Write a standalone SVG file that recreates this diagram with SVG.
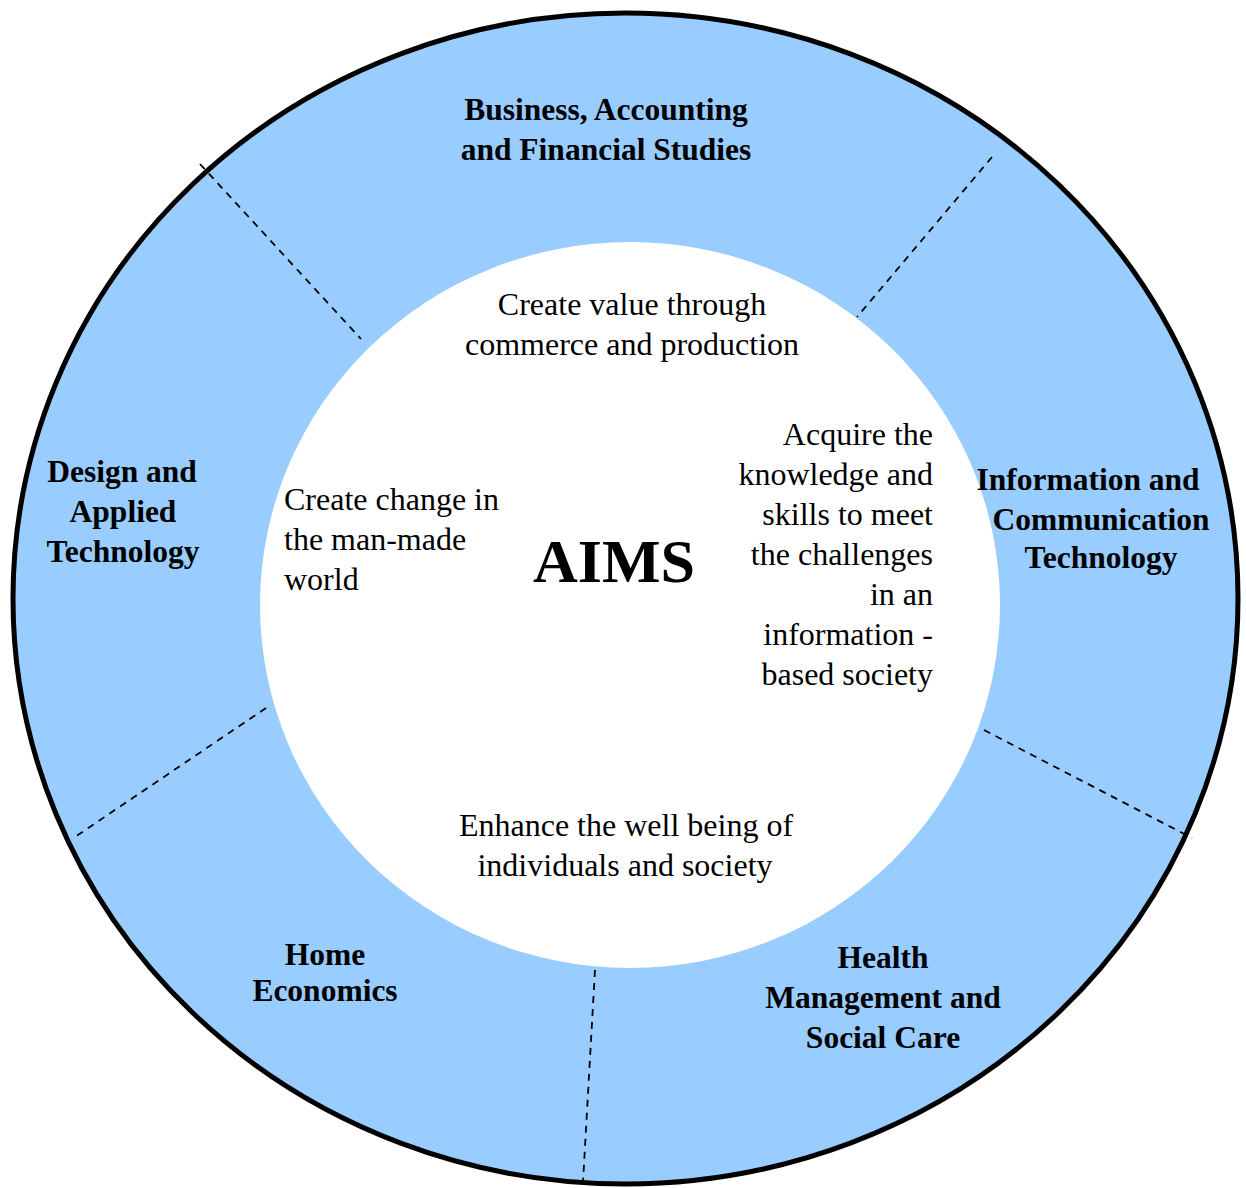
<svg xmlns="http://www.w3.org/2000/svg" width="1246" height="1188" viewBox="0 0 1246 1188">
  <style>
    .ring { fill: #99CCFF; stroke: #000; stroke-width: 5; }
    .hub { fill: #FFFFFF; stroke: none; }
    .divider { stroke: #000; stroke-width: 1.8; stroke-dasharray: 7 6; fill: none; }
    .area { font-family: "Liberation Serif", "Times New Roman", serif; font-weight: bold; font-size: 31.5px; fill: #000; text-anchor: middle; }
    .aim { font-family: "Liberation Serif", "Times New Roman", serif; font-size: 32px; fill: #000; }
    .title { font-family: "Liberation Serif", "Times New Roman", serif; font-weight: bold; font-size: 62px; fill: #000; text-anchor: middle; }
  </style>

  <!-- outer ring and inner hub -->
  <g id="ring">
    <ellipse class="ring" cx="625.5" cy="598.5" rx="612.5" ry="585.5"/>
  </g>
  <g id="hub">
    <ellipse class="hub" cx="630" cy="605" rx="370" ry="363"/>
    <text class="title" x="614" y="582">AIMS</text>
  </g>

  <!-- dashed dividers between the subject areas -->
  <g id="connectors">
    <line class="divider" x1="200" y1="164" x2="361" y2="339"/>
    <line class="divider" x1="992" y1="157" x2="857" y2="317"/>
    <line class="divider" x1="266" y1="708" x2="72" y2="839"/>
    <line class="divider" x1="984" y1="730" x2="1192" y2="838"/>
    <line class="divider" x1="595" y1="970" x2="583" y2="1182"/>
  </g>

  <!-- subject areas with their aims -->
  <g id="business">
    <text class="area" x="606" y="120">Business, Accounting</text>
    <text class="area" x="606" y="160">and Financial Studies</text>
    <text class="aim" x="632" y="315" text-anchor="middle">Create value through</text>
    <text class="aim" x="632" y="355" text-anchor="middle">commerce and production</text>
  </g>

  <g id="ict">
    <text class="area" x="1088" y="490">Information and</text>
    <text class="area" x="1101" y="530">Communication</text>
    <text class="area" x="1101" y="568">Technology</text>
    <text class="aim" x="933" y="445" text-anchor="end">Acquire the</text>
    <text class="aim" x="933" y="485" text-anchor="end">knowledge and</text>
    <text class="aim" x="933" y="525" text-anchor="end">skills to meet</text>
    <text class="aim" x="933" y="565" text-anchor="end">the challenges</text>
    <text class="aim" x="933" y="605" text-anchor="end">in an</text>
    <text class="aim" x="933" y="645" text-anchor="end">information -</text>
    <text class="aim" x="933" y="685" text-anchor="end">based society</text>
  </g>

  <g id="health">
    <text class="area" x="883" y="968">Health</text>
    <text class="area" x="883" y="1008">Management and</text>
    <text class="area" x="883" y="1048">Social Care</text>
  </g>

  <g id="home-economics">
    <text class="area" x="325" y="965">Home</text>
    <text class="area" x="325" y="1001">Economics</text>
    <text class="aim" x="626" y="836" text-anchor="middle">Enhance the well being of</text>
    <text class="aim" x="625" y="876" text-anchor="middle">individuals and society</text>
  </g>

  <g id="design">
    <text class="area" x="122" y="482">Design and</text>
    <text class="area" x="123" y="522">Applied</text>
    <text class="area" x="123" y="562">Technology</text>
    <text class="aim" x="284" y="510">Create change in</text>
    <text class="aim" x="284" y="550">the man-made</text>
    <text class="aim" x="284" y="590">world</text>
  </g>
</svg>
